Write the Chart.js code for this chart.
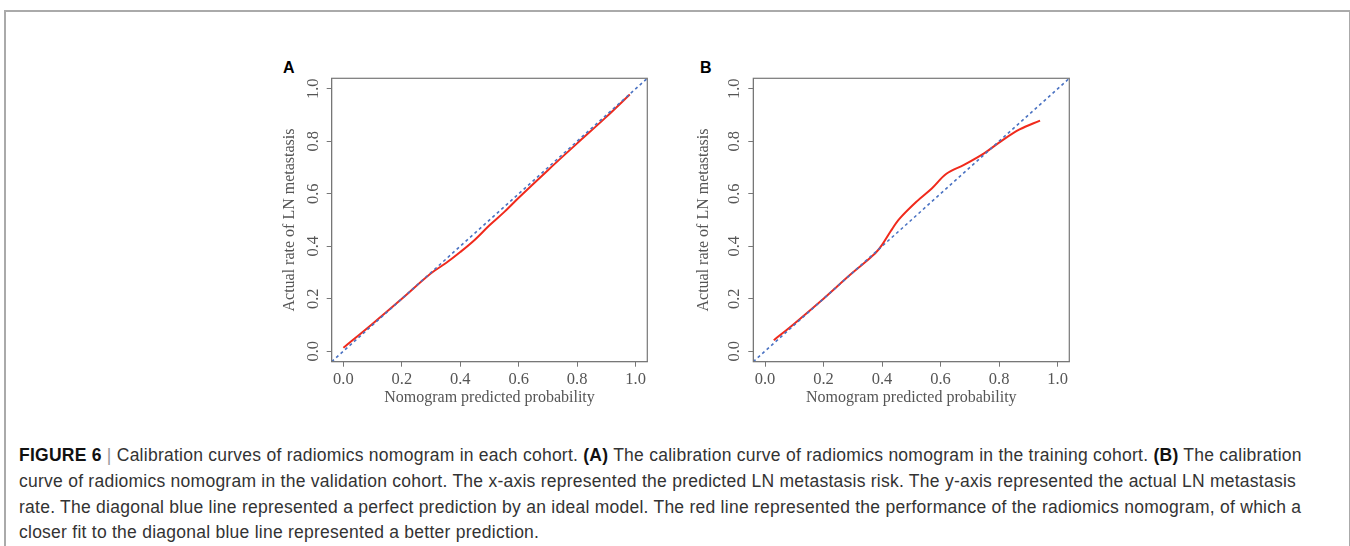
<!DOCTYPE html>
<html>
<head>
<meta charset="utf-8">
<script src="https://cdn.jsdelivr.net/npm/chart.js@4.4.1/dist/chart.umd.min.js"></script>
<style>
  body { margin: 0; background: #fff; width: 1350px; height: 546px; overflow: hidden; position: relative; }
  .frame { position: absolute; left: 4px; top: 10px; width: 1343px; height: 600px; border: 2px solid #aaa; border-bottom: none; }
  .panel { position: absolute; top: 50px; height: 360px; }
  .tag { position: absolute; top: 59px; font: bold 16px "Liberation Sans", Arial, sans-serif; color: #000; }
  .cap { position: absolute; left: 19px; white-space: nowrap; font: 17.5px "Liberation Sans", Arial, sans-serif; letter-spacing: 0.25px; color: #333; line-height: 26px; }
  .cap b { color: #111; }
  .bar { color: #999; }
</style>
</head>
<body>
<div class="frame"></div>
<div class="tag" style="left:283px">A</div>
<div class="tag" style="left:700px">B</div>
<div class="panel" style="left:270px;width:390px"><canvas id="chartA"></canvas></div>
<div class="panel" style="left:680px;width:400px"><canvas id="chartB"></canvas></div>

<div class="cap" style="top:442px"><b>FIGURE 6</b> <span class="bar">|</span> Calibration curves of radiomics nomogram in each cohort. <b>(A)</b> The calibration curve of radiomics nomogram in the training cohort. <b>(B)</b> The calibration</div>
<div class="cap" style="top:468px">curve of radiomics nomogram in the validation cohort. The x-axis represented the predicted LN metastasis risk. The y-axis represented the actual LN metastasis</div>
<div class="cap" style="top:494px">rate. The diagonal blue line represented a perfect prediction by an ideal model. The red line represented the performance of the radiomics nomogram, of which a</div>
<div class="cap" style="top:519px">closer fit to the diagonal blue line represented a better prediction.</div>

<script>
// Training cohort (A)
const trainX = [0, 0.1, 0.2, 0.3, 0.35, 0.4, 0.45, 0.5, 0.55, 0.6, 0.7, 0.8, 0.9, 0.98];
const trainY = [0.013, 0.105, 0.2, 0.297, 0.335, 0.378, 0.425, 0.48, 0.53, 0.585, 0.69, 0.792, 0.893, 0.978];

// Validation cohort (B)
const validX = [0.03, 0.1, 0.2, 0.29, 0.34, 0.38, 0.4, 0.43, 0.46, 0.52, 0.57, 0.62, 0.68, 0.75, 0.8, 0.87, 0.94];
const validY = [0.042, 0.105, 0.2, 0.29, 0.337, 0.377, 0.405, 0.458, 0.505, 0.572, 0.62, 0.676, 0.71, 0.755, 0.795, 0.845, 0.879];

// ideal line y = x across the axis range
const idealX = [-0.04, 1.04];
const idealY = [-0.04, 1.04];

const tickValues = [0, 0.2, 0.4, 0.6, 0.8, 1.0];
const axisMin = -0.04, axisMax = 1.04;

const serif = '"Liberation Serif", "Times New Roman", serif';
const grey = '#555';

// box around the plot area, like R's plot frame
const boxPlugin = {
    id: 'box',
    afterDraw(chart) {
        const a = chart.chartArea, ctx = chart.ctx;
        ctx.save();
        ctx.strokeStyle = '#777';
        ctx.lineWidth = 1.2;
        ctx.strokeRect(a.left, a.top, a.right - a.left, a.bottom - a.top);
        ctx.restore();
    }
};

function makeChart(id, xs, ys, yWidth, pad) {
    const axis = (title) => ({
        type: 'linear',
        min: axisMin,
        max: axisMax,
        afterBuildTicks: s => { s.ticks = tickValues.map(v => ({ value: v })); },
        grid: { drawOnChartArea: false, drawTicks: true, tickLength: 5, color: '#777' },
        border: { display: true, color: '#777' },
        title: { display: true, text: title, color: grey, font: { family: serif, size: 16 }, padding: 0 },
        ticks: { color: grey, font: { family: serif, size: 16.5 }, padding: 3, callback: v => v.toFixed(1) }
    });

    const x = axis('Nomogram predicted probability');
    x.afterFit = s => { s.height = 45.9; };
    x.ticks.maxRotation = 0;

    const y = axis('Actual rate of LN metastasis');
    y.afterFit = s => { s.width = yWidth; };
    y.ticks.minRotation = 90;
    y.ticks.maxRotation = 90;
    y.ticks.crossAlign = 'center';

    return new Chart(document.getElementById(id), {
        type: 'scatter',
        data: {
            datasets: [{
                data: idealX.map((v, i) => ({ x: v, y: idealY[i] })),
                showLine: true,
                borderColor: '#4a72c2',
                borderWidth: 1.6,
                borderDash: [3, 3],
                pointRadius: 0
            }, {
                data: xs.map((v, i) => ({ x: v, y: ys[i] })),
                showLine: true,
                borderColor: '#f02a1c',
                borderWidth: 2,
                tension: 0.35,
                pointRadius: 0
            }]
        },
        options: {
            responsive: true,
            maintainAspectRatio: false,
            animation: false,
            layout: { padding: pad },
            plugins: { legend: { display: false }, tooltip: { enabled: false } },
            scales: { x, y }
        },
        plugins: [boxPlugin]
    });
}

makeChart('chartA', trainX, trainY, 51.3, { left: 10.4, top: 28.3, right: 12.7, bottom: 2.4 });
makeChart('chartB', validX, validY, 58.9, { left: 14.4, top: 28.3, right: 10.7, bottom: 2.4 });
</script>
</body>
</html>
